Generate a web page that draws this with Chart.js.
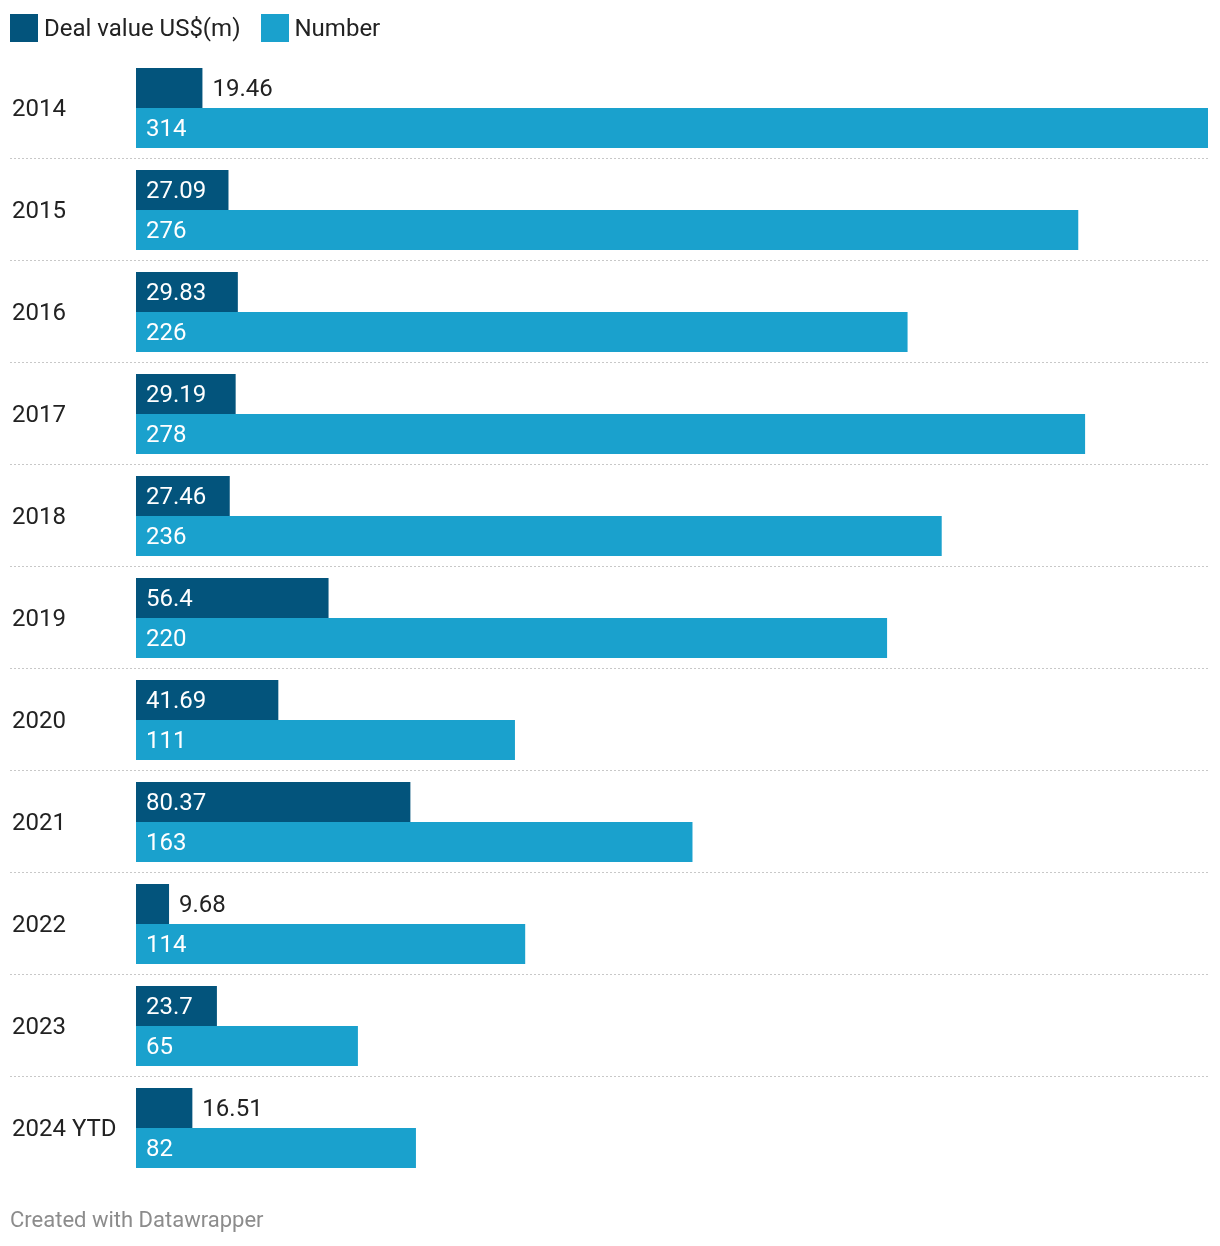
<!DOCTYPE html>
<html>
<head>
<meta charset="utf-8">
<script src="https://cdn.jsdelivr.net/npm/chart.js@4"></script>
<style>
    body { margin: 0; background: #fff; font-family: Roboto, sans-serif; }
    #wrap { position: relative; width: 1220px; height: 1246px; }
    #chart { position: absolute; left: 0; top: 0; }
    .legend { position: absolute; top: 14px; left: 10px; display: flex; align-items: center; font-size: 24px; color: #222; line-height: 28px; }
    .legend .item { display: flex; align-items: center; margin-right: 20px; }
    .legend .box { width: 28px; height: 28px; margin-right: 6px; }
    .footer { position: absolute; left: 10px; top: 1207px; font-size: 22px; color: #8c8c8c; }
</style>
</head>
<body>
<div id="wrap">
    <canvas id="chart" width="1220" height="1246"></canvas>
    <div class="legend">
        <div class="item"><span class="box" style="background:#03547c"></span>Deal value US$(m)</div>
        <div class="item"><span class="box" style="background:#1aa1cd"></span>Number</div>
    </div>
    <div class="footer">Created with Datawrapper</div>
</div>
<script>
const years = ['2014', '2015', '2016', '2017', '2018', '2019', '2020', '2021', '2022', '2023', '2024 YTD'];
const dealValue = [19.46, 27.09, 29.83, 29.19, 27.46, 56.4, 41.69, 80.37, 9.68, 23.7, 16.51];
const dealCount = [314, 276, 226, 278, 236, 220, 111, 163, 114, 65, 82];

const DARK = '#03547c';
const LIGHT = '#1aa1cd';
const FONT = '24px Roboto, sans-serif';

// dotted lines between the rows, running under the year labels too
const rowSeparators = {
    id: 'rowSeparators',
    beforeDatasetsDraw(chart) {
        const ctx = chart.ctx;
        const y = chart.scales.y;
        const step = (y.bottom - y.top) / years.length;
        ctx.save();
        ctx.strokeStyle = '#c8c8c8';
        ctx.lineWidth = 1;
        ctx.setLineDash([2, 2]);
        for (let i = 1; i < years.length; i++) {
            const yy = Math.round(y.top + step * i) - 0.5;
            ctx.beginPath();
            ctx.moveTo(10, yy);
            ctx.lineTo(chart.chartArea.right, yy);
            ctx.stroke();
        }
        ctx.restore();
    }
};

// value labels: white inside the bar when they fit, dark outside otherwise
const valueLabels = {
    id: 'valueLabels',
    afterDatasetsDraw(chart) {
        const ctx = chart.ctx;
        ctx.save();
        ctx.font = FONT;
        ctx.textBaseline = 'middle';
        ctx.textAlign = 'left';
        chart.data.datasets.forEach((ds, i) => {
            chart.getDatasetMeta(i).data.forEach((bar, j) => {
                const text = String(ds.data[j]);
                const w = ctx.measureText(text).width;
                const barW = bar.x - bar.base;
                if (w + 20 <= barW) {
                    ctx.fillStyle = '#ffffff';
                    ctx.fillText(text, bar.base + 10, bar.y + 2);
                } else {
                    ctx.fillStyle = '#222222';
                    ctx.fillText(text, bar.x + 10, bar.y + 2);
                }
            });
        });
        ctx.restore();
    }
};

new Chart(document.getElementById('chart'), {
    type: 'bar',
    data: {
        labels: years,
        datasets: [
            { label: 'Deal value US$(m)', data: dealValue, backgroundColor: DARK },
            { label: 'Number', data: dealCount, backgroundColor: LIGHT }
        ]
    },
    options: {
        indexAxis: 'y',
        responsive: false,
        animation: false,
        categoryPercentage: 80 / 102,
        barPercentage: 1,
        layout: { padding: { top: 57, bottom: 67, left: 12, right: 12 } },
        scales: {
            x: { display: false, min: 0, max: 314 },
            y: {
                grid: { display: false },
                border: { display: false },
                ticks: {
                    crossAlign: 'far',
                    color: '#222',
                    font: { family: 'Roboto', size: 24 },
                    padding: 0,
                    labelOffset: 2
                },
                afterFit(scale) { scale.width = 124; }
            }
        },
        plugins: {
            legend: { display: false },
            tooltip: { enabled: false }
        }
    },
    plugins: [rowSeparators, valueLabels]
});
</script>
</body>
</html>
